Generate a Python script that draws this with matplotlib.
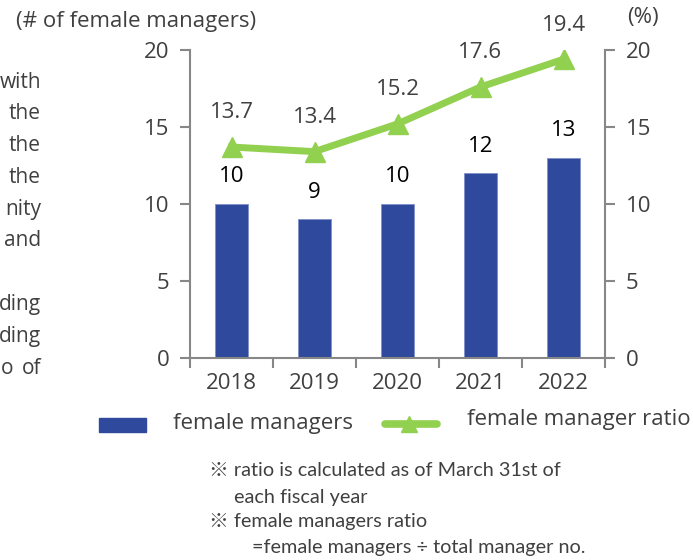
import numpy as np
import matplotlib.pyplot as plt

# values
years = ['2018', '2019', '2020', '2021', '2022']
female_managers = [10, 9, 10, 12, 13]
female_ratio = [13.7, 13.4, 15.2, 17.6, 19.4]
side_text = ['with', 'the', 'the', 'the', 'nity', 'and', '', 'ding', 'ding', 'of']
notes = ['※ ratio is calculated as of March 31st of',
         'each fiscal year',
         '※ female managers ratio',
         '=female managers ÷ total manager no.']
note_x = [209, 234, 209, 252]
note_y = [471, 497, 521, 547]

BLUE = '#2F4A9D'
GREEN = '#92D050'
GREY = '#878787'
TXT = '#404040'
W, H = 693, 560
FS = 16

plt.rcParams['font.family'] = ['Open Sans', 'Noto Sans CJK JP', 'DejaVu Sans']

fig = plt.figure(figsize=(W / 100, H / 100), dpi=100)
ax = fig.add_axes([190 / W, 1 - 358 / H, 415 / W, 308 / H])
ax2 = ax.twinx()

x = np.arange(len(years))
ax.bar(x, female_managers, width=0.4, color=BLUE, edgecolor='#8090c8', linewidth=0.6, zorder=2)
for xi, v in zip(x, female_managers):
    ax.annotate(str(v), (xi, v), xytext=(0, 12), textcoords='offset points',
                ha='center', va='bottom', fontsize=FS, color='black')

ax2.plot(x, female_ratio, color=GREEN, lw=5, marker='^', markersize=14, zorder=3)
for xi, v in zip(x, female_ratio):
    ax2.annotate(f'{v:.1f}', (xi, v), xytext=(0, 17), textcoords='offset points',
                 ha='center', va='bottom', fontsize=FS, color=TXT)

ax.set_xlim(-0.5, len(years) - 0.5)
for a in (ax, ax2):
    a.set_ylim(0, 20)
    a.set_yticks([0, 5, 10, 15, 20])
    for s in a.spines.values():
        s.set_visible(False)
ax.spines['left'].set_visible(True)
ax.spines['bottom'].set_visible(True)
ax2.spines['right'].set_visible(True)
for s in (ax.spines['left'], ax.spines['bottom'], ax2.spines['right']):
    s.set_color(GREY)
    s.set_linewidth(1.5)

ax.set_xticks(x)
ax.set_xticklabels(years)
ax.set_xticks(np.arange(-0.5, len(years)), minor=True)
ax.tick_params(axis='x', which='major', length=0, pad=11, labelsize=FS, labelcolor=TXT)
ax.tick_params(axis='x', which='minor', length=7, width=1.5, color=GREY)
ax.tick_params(axis='y', length=7, width=1.5, color=GREY, pad=8, labelsize=FS, labelcolor=TXT)
ax2.tick_params(axis='y', length=7, width=1.5, color=GREY, pad=8, labelsize=FS, labelcolor=TXT)

fig.text(16 / W, 1 - 22 / H, '(# of female managers)', ha='left', va='center', fontsize=FS, color=TXT)
fig.text(643 / W, 1 - 17 / H, '(%)', ha='center', va='center', fontsize=FS, color=TXT)

# legend drawn by hand to keep the wide spacing of the original
fig.patches.append(plt.Rectangle((99 / W, 1 - 432 / H), 47 / W, 14 / H,
                                 transform=fig.transFigure, color=BLUE))
fig.text(173 / W, 1 - 423 / H, 'female managers', ha='left', va='center', fontsize=FS, color=TXT)
fig.lines.append(plt.Line2D([385 / W, 437 / W], [1 - 424 / H, 1 - 424 / H], transform=fig.transFigure,
                            color=GREEN, lw=5.5, solid_capstyle='round'))
fig.lines.append(plt.Line2D([409 / W], [1 - 424 / H], transform=fig.transFigure,
                            color=GREEN, marker='^', markersize=11, lw=0))
fig.text(467 / W, 1 - 420 / H, 'female manager ratio', ha='left', va='center', fontsize=FS, color=TXT)

# cut-off paragraph on the left
for i, t in enumerate(side_text):
    fig.text(41 / W, 1 - (82 + i * 31.8) / H, t, ha='right', va='center', fontsize=15,
             color=TXT)
fig.text(1 / W, 1 - (82 + 9 * 31.8) / H, 'o', ha='left', va='center', fontsize=15, color=TXT)

for t, xx, yy in zip(notes, note_x, note_y):
    fig.text(xx / W, 1 - yy / H, t, ha='left', va='center', fontsize=14.3, color=TXT,
             family=['Lato', 'Noto Sans CJK JP', 'DejaVu Sans'])

fig.savefig('out.png', dpi=100)
